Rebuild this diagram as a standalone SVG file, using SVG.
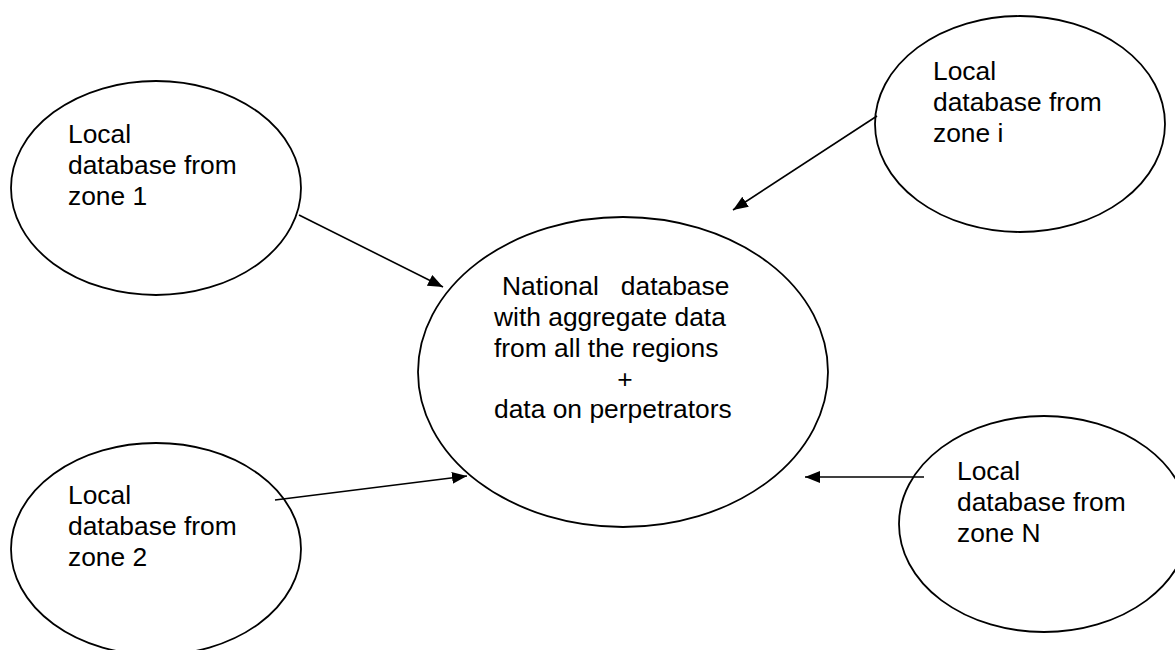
<svg xmlns="http://www.w3.org/2000/svg" width="1175" height="650" viewBox="0 0 1175 650">
<defs>
<style>
.node ellipse{fill:#fff;stroke:#000;stroke-width:1.8}
.lbl{font-family:"Liberation Sans",Arial,sans-serif;font-size:26.4px;fill:#000}
.conn line{stroke:#000;stroke-width:1.6;fill:none}
</style>
<marker id="ah" markerUnits="userSpaceOnUse" markerWidth="16" markerHeight="12" refX="15" refY="6" orient="auto">
<path d="M0,0 L15,6 L0,12 z" fill="#000"/>
</marker>
</defs>
<rect width="1175" height="650" fill="#fff"/>
<g id="zone1" class="node">
<ellipse cx="156" cy="188" rx="145" ry="107"/>
<text class="lbl"><tspan x="68" y="143">Local</tspan><tspan x="68" y="174">database from</tspan><tspan x="68" y="205">zone 1</tspan></text>
</g>
<g id="zone2" class="node">
<ellipse cx="156" cy="549" rx="145" ry="106"/>
<text class="lbl"><tspan x="68" y="504">Local</tspan><tspan x="68" y="535">database from</tspan><tspan x="68" y="566">zone 2</tspan></text>
</g>
<g id="zonei" class="node">
<ellipse cx="1020" cy="124" rx="145" ry="108"/>
<text class="lbl"><tspan x="933" y="80">Local</tspan><tspan x="933" y="111">database from</tspan><tspan x="933" y="142">zone i</tspan></text>
</g>
<g id="zoneN" class="node">
<ellipse cx="1044" cy="524" rx="145" ry="108"/>
<text class="lbl"><tspan x="957" y="480">Local</tspan><tspan x="957" y="511">database from</tspan><tspan x="957" y="542">zone N</tspan></text>
</g>
<g id="national" class="node">
<ellipse cx="623" cy="372" rx="205" ry="155"/>
<text class="lbl" xml:space="preserve"><tspan x="502" y="295">National   database</tspan><tspan x="494" y="326">with aggregate data</tspan><tspan x="494" y="357">from all the regions</tspan><tspan x="625" y="388" text-anchor="middle">+</tspan><tspan x="494" y="418">data on perpetrators</tspan></text>
</g>
<g id="connectors" class="conn">
<line x1="299" y1="215" x2="443" y2="287" marker-end="url(#ah)"/>
<line x1="275" y1="500" x2="467" y2="476" marker-end="url(#ah)"/>
<line x1="877" y1="116" x2="733" y2="210" marker-end="url(#ah)"/>
<line x1="924" y1="477" x2="805" y2="477" marker-end="url(#ah)"/>
</g>
</svg>
